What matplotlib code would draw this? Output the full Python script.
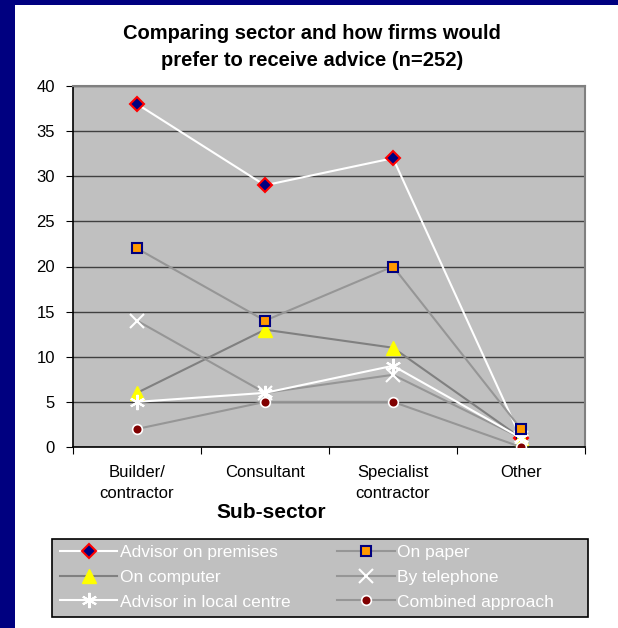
import matplotlib
matplotlib.use("Agg")
import matplotlib.pyplot as plt
from matplotlib.patches import Rectangle

plt.rcParams['font.family'] = ['Liberation Sans', 'DejaVu Sans']

# data
categories = ["Builder/\ncontractor", "Consultant", "Specialist\ncontractor", "Other"]
advisor_premises = [38, 29, 32, 1]
on_paper = [22, 14, 20, 2]
on_computer = [6, 13, 11, 1]
by_telephone = [14, 6, 8, 1]
advisor_local = [5, 6, 9, 1]
combined = [2, 5, 5, 0]

W, H = 618, 628
fig = plt.figure(figsize=(W/100, H/100), dpi=100)
fig.patch.set_facecolor('#000080')
# white panel, navy strip left and top
fig.patches.append(Rectangle((15/W, 0), 1, 1 - 5/H, transform=fig.transFigure,
                             facecolor='white', edgecolor='none', zorder=-10))
# legend box drawn by hand so it spans the same width as the reference
fig.patches.append(Rectangle((52/W, 1 - 617/H), 536/W, 78/H, transform=fig.transFigure,
                             facecolor='#C0C0C0', edgecolor='black', lw=1.2, zorder=-5))

ax = fig.add_axes([73/W, 1 - 447/H, 512/W, 361/H])
ax.set_facecolor('#C0C0C0')

x = [0, 1, 2, 3]
h1, = ax.plot(x, advisor_premises, '-', color='white', lw=1.5, marker='D', ms=7,
              mfc='#000080', mec='red', mew=1.5, label='Advisor on premises', zorder=2)
h2, = ax.plot(x, on_paper, '-', color='#969696', lw=1.5, marker='s', ms=7,
              mfc='#FF9900', mec='#000080', mew=1.5, label='On paper', zorder=7)
h3, = ax.plot(x, on_computer, '-', color='#808080', lw=1.5, marker='^', ms=10,
              mfc='yellow', mec='yellow', label='On computer', zorder=3)
h4, = ax.plot(x, by_telephone, '-', color='#969696', lw=1.5, marker='x', ms=10,
              mec='white', mew=1.5, label='By telephone', zorder=4)
h5, = ax.plot(x, advisor_local, '-', color='white', lw=1.5, marker=(6, 2, 0), ms=11,
              mec='white', mew=1.5, label='Advisor in local centre', zorder=5)
h6, = ax.plot(x, combined, '-', color='#969696', lw=1.5, marker='o', ms=7,
              mfc='#800000', mec='white', mew=1.2, label='Combined approach', zorder=6)

ax.set_xlim(-0.5, 3.5)
ax.set_ylim(0, 40)
ax.set_yticks(range(0, 41, 5))
ax.set_xticks([-0.5, 0.5, 1.5, 2.5, 3.5], minor=False)
ax.set_xticklabels([])
ax.set_xticks(x, minor=True)
ax.set_xticklabels(categories, minor=True, fontsize=12, linespacing=1.5)
ax.tick_params(axis='x', which='minor', length=0, pad=13)
ax.tick_params(axis='x', which='major', direction='out', length=5, color='black')
ax.tick_params(axis='y', direction='out', length=5, labelsize=12, pad=8)
ax.yaxis.grid(True, color='#404040', lw=1)
ax.set_axisbelow(True)
for side in ['top', 'right']:
    ax.spines[side].set_color('#808080')
    ax.spines[side].set_linewidth(1.5)
ax.spines['left'].set_linewidth(1.2)
ax.spines['bottom'].set_linewidth(1.2)

fig.text(312/W, 1 - 47/H, "Comparing sector and how firms would\nprefer to receive advice (n=252)",
         ha='center', va='center', fontsize=14.5, fontweight='bold', linespacing=1.5)
fig.text(271/W, 1 - 512/H, "Sub-sector", ha='center', va='center',
         fontsize=15, fontweight='bold')

order = [h1, h3, h5, h2, h4, h6]
leg = fig.legend(order, [h.get_label() for h in order],
                 ncol=2, loc='upper left', bbox_to_anchor=(60/W, 1 - 545/H),
                 frameon=False, fontsize=12.5, handlelength=3.3, handletextpad=0.15,
                 labelspacing=0.55, borderaxespad=0, borderpad=0, columnspacing=2.7)
for t in leg.get_texts():
    t.set_color('white')

fig.savefig('out.png', dpi=100, facecolor=fig.get_facecolor())
